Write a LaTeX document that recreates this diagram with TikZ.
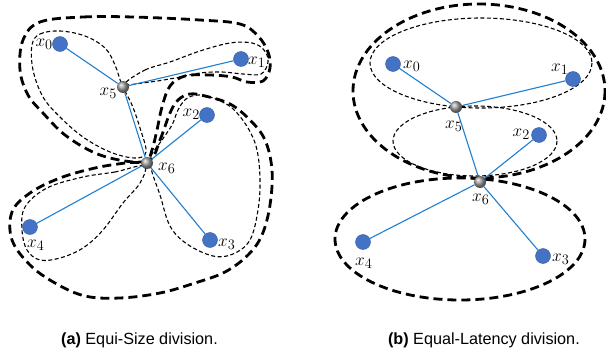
\documentclass[tikz,border=0pt]{standalone}
\usepackage{fontspec}
\newfontfamily\capfont{Liberation Sans}
\tikzset{
  leaf/.style={circle, fill=leafblue, draw=leafblue!80!black, line width=0.4pt, minimum size=15pt, inner sep=0pt},
  hub/.style={circle, ball color=gray!75, minimum size=12pt, inner sep=0pt},
  link/.style={draw=linkblue, line width=1.1pt},
  bigdash/.style={line width=2.8pt, dash pattern=on 9pt off 5pt},
  smalldash/.style={line width=1.1pt, dash pattern=on 4pt off 2.5pt},
  lbl/.style={inner sep=0pt, font=\fontsize{19}{21}\selectfont},
  caption/.style={inner sep=0pt, font=\capfont\fontsize{16.2}{18}\selectfont}
}
\definecolor{leafblue}{HTML}{4472C4}
\definecolor{linkblue}{HTML}{1F7FD0}
\begin{document}
\begin{tikzpicture}[x=1pt,y=-1pt]
\path[use as bounding box] (0,0) rectangle (606,356);

% ---------- (a) equal-size groups ----------
% outer group: x0, x1, x5
\draw[bigdash] plot[smooth cycle, tension=0.6] coordinates {
  (40,22) (83,17) (133,17) (200,20) (240,24) (258,36) (268,52) (270,68)
  (263,81) (247,82) (232,77) (210,75) (185,76) (170,86) (162,107) (157,130)
  (152,150) (146,161) (125,161) (95,153) (65,135) (43,113) (28,95) (20,70) (23,40)};
% outer group: x2, x3, x4, x6
\draw[bigdash] plot[smooth cycle, tension=0.6] coordinates {
  (150,160) (160,140) (170,113) (178,100) (190,94) (205,96) (230,104) (250,120)
  (265,140) (272,170) (270,205) (262,235) (248,255) (225,272) (195,283) (160,293)
  (120,298) (85,296) (55,283) (30,265) (12,240) (12,212) (30,193) (60,178)
  (95,168) (125,163)};
% inner group: x0, x5, x6
\draw[smalldash] plot[smooth cycle, tension=0.6] coordinates {
  (32,45) (40,34) (60,31) (85,36) (105,48) (115,65) (122,85) (132,105)
  (140,128) (146,152) (135,158) (110,152) (83,137) (60,117) (43,97) (33,70)};
% inner group: x5, x1
\draw[smalldash] plot[smooth cycle, tension=0.6] coordinates {
  (125,84) (145,70) (170,62) (200,51) (230,43) (252,43) (264,50) (268,62)
  (261,74) (243,74) (222,72) (200,73) (175,78) (150,82)};
% inner group: x6, x2, x3
\draw[smalldash] plot[smooth cycle, tension=0.6] coordinates {
  (150,158) (162,140) (172,125) (178,110) (186,99) (198,95) (213,98) (232,108)
  (248,128) (257,150) (260,180) (258,210) (250,240) (233,254) (213,256) (187,244)
  (170,226) (160,195) (152,172)};
% inner group: x6, x4
\draw[smalldash] plot[smooth cycle, tension=0.6] coordinates {
  (144,166) (115,172) (83,177) (47,188) (25,207) (22,230) (27,250) (40,260)
  (60,258) (83,248) (103,230) (123,203) (140,183)};

\node[leaf] (a0) at (60,44) {};
\node[leaf] (a1) at (241,59) {};
\node[leaf] (a2) at (207,115) {};
\node[leaf] (a3) at (210,240) {};
\node[leaf] (a4) at (30,227) {};
\node[hub]  (a5) at (123,87) {};
\node[hub]  (a6) at (147,163) {};
\draw[link] (a5) -- (a0);
\draw[link] (a5) -- (a1);
\draw[link] (a5) -- (a6);
\draw[link] (a6) -- (a2);
\draw[link] (a6) -- (a3);
\draw[link] (a6) -- (a4);

\node[lbl, anchor=east] at (53,44) {$x_0$};
\node[lbl, anchor=west] at (248,62) {$x_1$};
\node[lbl, anchor=east] at (200,114) {$x_2$};
\node[lbl, anchor=west] at (218,244) {$x_3$};
\node[lbl, anchor=west] at (27,245) {$x_4$};
\node[lbl, anchor=east] at (117,93) {$x_5$};
\node[lbl, anchor=west] at (158,168) {$x_6$};

% ---------- (b) equal-latency groups ----------
\draw[bigdash] (479,91) ellipse [x radius=126, y radius=87];
\draw[bigdash] (460,239) ellipse [x radius=125, y radius=61];
\draw[smalldash] (481,63) ellipse [x radius=111, y radius=45];
\draw[smalldash] (475,141) ellipse [x radius=82, y radius=35];

\node[leaf] (b0) at (393,64) {};
\node[leaf] (b1) at (573,79) {};
\node[leaf] (b2) at (539,135) {};
\node[leaf] (b3) at (543,256) {};
\node[leaf] (b4) at (363,242) {};
\node[hub]  (b5) at (456,107) {};
\node[hub]  (b6) at (480,182) {};
\draw[link] (b5) -- (b0);
\draw[link] (b5) -- (b1);
\draw[link] (b5) -- (b6);
\draw[link] (b6) -- (b2);
\draw[link] (b6) -- (b3);
\draw[link] (b6) -- (b4);

\node[lbl, anchor=west] at (403,66) {$x_0$};
\node[lbl, anchor=west] at (551,69) {$x_1$};
\node[lbl, anchor=east] at (530,134) {$x_2$};
\node[lbl, anchor=west] at (552,259) {$x_3$};
\node[lbl, anchor=west] at (355,263) {$x_4$};
\node[lbl, anchor=west] at (445,126) {$x_5$};
\node[lbl, anchor=west] at (472,199) {$x_6$};

% ---------- captions ----------
\node[caption, anchor=base east] (capa) at (218,344) {\textbf{(a)} Equi-Size division.};
\node[caption, anchor=base east] (capb) at (580,344) {\textbf{(b)} Equal-Latency division.};
\end{tikzpicture}
\end{document}
